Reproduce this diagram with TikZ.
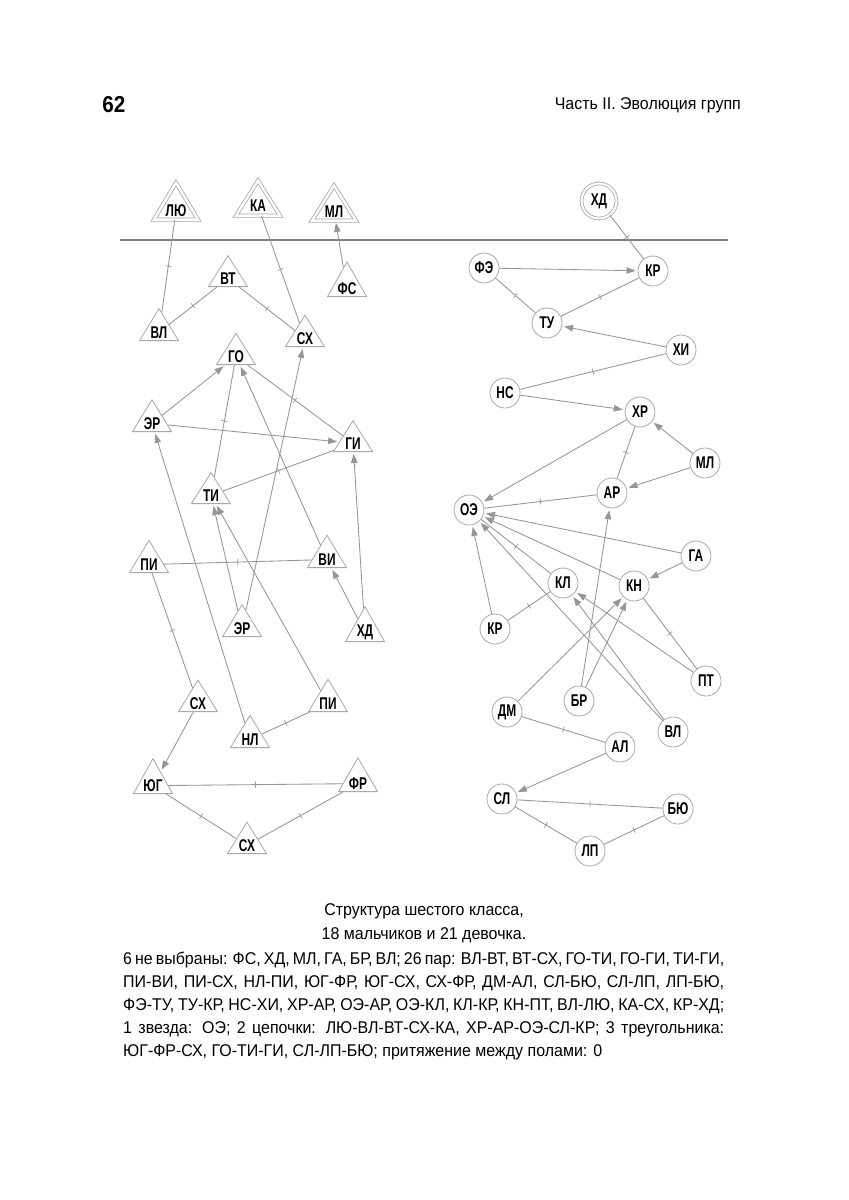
\documentclass[tikz,border=0pt]{standalone}
\usepackage{fontspec}
\setmainfont{Liberation Sans}[FakeStretch=0.94]
\newfontfamily\lblfont{Liberation Sans}[FakeStretch=0.7]
\newfontfamily\pgfont{Liberation Sans}[FakeStretch=0.9]
\usetikzlibrary{shapes.geometric,arrows.meta,decorations.markings}
\definecolor{lc}{HTML}{969696}
\definecolor{nc}{HTML}{A8A8A8}
\begin{document}
\begin{tikzpicture}[x=1pt,y=-1pt,
  lbl/.style={font=\lblfont\bfseries\fontsize{17}{17}\selectfont, text=black},
  tri/.style={lbl, isosceles triangle, isosceles triangle stretches, shape border rotate=90,
    minimum width=39pt, minimum height=31pt, inner sep=0pt, draw=nc, line width=0.8pt, anchor=lower side},
  dtri/.style={tri, minimum width=44pt, minimum height=35pt, double=white, double distance=2.4pt},
  circ/.style={lbl, circle, minimum size=30pt, inner sep=0pt, draw=nc, line width=0.8pt},
  dcirc/.style={circ, minimum size=35pt, double=white, double distance=2pt},
  arr/.style={draw=lc, line width=0.85pt, -{Triangle[length=9pt,width=6.5pt]}, shorten >=2pt},
  mut/.style={draw=lc, line width=0.85pt, postaction={decorate},
    decoration={markings, mark=at position 0.5 with {\draw[lc, line width=0.7pt] (0,-3pt) -- (0,3pt);}}},
  txt/.style={font=\fontsize{17}{17}\selectfont, inner sep=0pt}
]
\useasboundingbox (0,0) rectangle (849,1200);
\fill[white] (0,0) rectangle (849,1200);

% header
\node[font=\pgfont\bfseries\fontsize{23}{23}\selectfont, inner sep=0pt] (pg) at (114,105) {62};
\node[txt, anchor=east] (hd) at (741,105) {Часть II. Эволюция групп};

% divider
\coordinate (dl) at (120,240);
\coordinate (dr) at (728,240);
\draw[draw=lc!85!black, line width=1.6pt] (dl) -- (dr);

% boys (triangles)
\node[dtri] (lyu) at (176,220) {ЛЮ};
\node[dtri] (ka)  at (258,216) {КА};
\node[dtri] (mlb) at (334,221) {МЛ};
\node[tri] (vt)  at (228,287) {ВТ};
\node[tri] (vl)  at (159,341) {ВЛ};
\node[tri] (sx1) at (305,347) {СХ};
\node[tri] (fs)  at (347,297) {ФС};
\node[tri] (go)  at (236,365) {ГО};
\node[tri] (er1) at (152,432) {ЭР};
\node[tri] (gi)  at (353,452) {ГИ};
\node[tri] (ti)  at (211,504) {ТИ};
\node[tri] (pi1) at (149,573) {ПИ};
\node[tri] (vi)  at (327,568) {ВИ};
\node[tri] (er2) at (242,637) {ЭР};
\node[tri] (hdb) at (365,642) {ХД};
\node[tri] (sx2) at (198,712) {СХ};
\node[tri] (pi2) at (328,712) {ПИ};
\node[tri] (nl)  at (250,748) {НЛ};
\node[tri] (yug) at (153,794) {ЮГ};
\node[tri] (fr)  at (358,792) {ФР};
\node[tri] (sx3) at (247,854) {СХ};

% girls (circles)
\node[dcirc] (hdg) at (599,201) {ХД};
\node[circ] (fe)  at (484,268) {ФЭ};
\node[circ] (kr1) at (653,271) {КР};
\node[circ] (tu)  at (547,323) {ТУ};
\node[circ] (hi)  at (681,350) {ХИ};
\node[circ] (ns)  at (505,393) {НС};
\node[circ] (hr)  at (640,412) {ХР};
\node[circ] (mlg) at (705,463) {МЛ};
\node[circ] (ar)  at (612,493) {АР};
\node[circ] (oe)  at (469,510) {ОЭ};
\node[circ] (ga)  at (696,556) {ГА};
\node[circ] (kl)  at (563,583) {КЛ};
\node[circ] (kn)  at (634,586) {КН};
\node[circ] (kr2) at (495,629) {КР};
\node[circ] (pt)  at (706,681) {ПТ};
\node[circ] (br)  at (579,701) {БР};
\node[circ] (dm)  at (507,712) {ДМ};
\node[circ] (vlg) at (673,732) {ВЛ};
\node[circ] (al)  at (620,747) {АЛ};
\node[circ] (sl)  at (502,799) {СЛ};
\node[circ] (byu) at (678,809) {БЮ};
\node[circ] (lp)  at (590,851) {ЛП};

% boys connectors
\draw[mut] (lyu) -- (vl);
\draw[mut] (ka) -- (sx1);
\draw[arr] (fs) -- (mlb);
\draw[mut] (vl) -- (vt);
\draw[mut] (vt) -- (sx1);
\draw[arr] (er1) -- (go);
\draw[mut] (go) -- (ti);
\draw[mut] (go) -- (gi);
\draw[arr] (er1) -- (gi);
\draw[mut] (ti) -- (gi);
\draw[arr] (vi) -- (go);
\draw[arr] (er2) -- (sx1);
\draw[arr] (nl) -- (er1);
\draw[arr] (er2) -- (ti);
\draw[arr] (pi2) -- (ti);
\draw[arr] (hdb) -- (gi);
\draw[arr] (hdb) -- (vi);
\draw[mut] (pi1) -- (vi);
\draw[mut] (pi1) -- (sx2);
\draw[arr] (sx2) -- (yug);
\draw[mut] (nl) -- (pi2);
\draw[mut] (yug) -- (fr);
\draw[mut] (yug) -- (sx3);
\draw[mut] (sx3) -- (fr);

% girls connectors
\draw[mut] (hdg) -- (kr1);
\draw[arr] (fe) -- (kr1);
\draw[mut] (fe) -- (tu);
\draw[mut] (tu) -- (kr1);
\draw[arr] (hi) -- (tu);
\draw[mut] (ns) -- (hi);
\draw[arr] (ns) -- (hr);
\draw[arr] (hr) -- (oe);
\draw[mut] (hr) -- (ar);
\draw[arr] (mlg) -- (hr);
\draw[arr] (mlg) -- (ar);
\draw[mut] (ar) -- (oe);
\draw[arr] (ga) -- (oe);
\draw[arr] (kn) -- (oe);
\draw[mut] (kl) -- (oe);
\draw[arr] (vlg) -- (oe);
\draw[arr] (kr2) -- (oe);
\draw[arr] (br) -- (ar);
\draw[arr] (ga) -- (kn);
\draw[arr] (dm) -- (kn);
\draw[arr] (br) -- (kn);
\draw[arr] (pt) -- (kl);
\draw[mut] (kn) -- (pt);
\draw[mut] (kl) -- (kr2);
\draw[arr] (vlg) -- (kl);
\draw[mut] (dm) -- (al);
\draw[arr] (al) -- (sl);
\draw[mut] (sl) -- (byu);
\draw[mut] (sl) -- (lp);
\draw[mut] (lp) -- (byu);

% caption
\node[txt] (c1) at (424,911) {Структура шестого класса,};
\node[txt] (c2) at (424,935) {18 мальчиков и 21 девочка.};
\node[txt, anchor=west] (c3) at (123,960) {\makebox[601pt][s]{6 не выбраны: ФС, ХД, МЛ, ГА, БР, ВЛ; 26 пар: ВЛ-ВТ, ВТ-СХ, ГО-ТИ, ГО-ГИ, ТИ-ГИ,}};
\node[txt, anchor=west] (c4) at (123,983) {\makebox[601pt][s]{ПИ-ВИ, ПИ-СХ, НЛ-ПИ, ЮГ-ФР, ЮГ-СХ, СХ-ФР, ДМ-АЛ, СЛ-БЮ, СЛ-ЛП, ЛП-БЮ,}};
\node[txt, anchor=west] (c5) at (123,1006) {\makebox[601pt][s]{ФЭ-ТУ, ТУ-КР, НС-ХИ, ХР-АР, ОЭ-АР, ОЭ-КЛ, КЛ-КР, КН-ПТ, ВЛ-ЛЮ, КА-СХ, КР-ХД;}};
\node[txt, anchor=west] (c6) at (123,1029) {\makebox[601pt][s]{1 звезда: ОЭ; 2 цепочки: ЛЮ-ВЛ-ВТ-СХ-КА, ХР-АР-ОЭ-СЛ-КР; 3 треугольника:}};
\node[txt, anchor=west] (c7) at (123,1052) {ЮГ-ФР-СХ, ГО-ТИ-ГИ, СЛ-ЛП-БЮ; притяжение между полами: 0};
\end{tikzpicture}
\end{document}
